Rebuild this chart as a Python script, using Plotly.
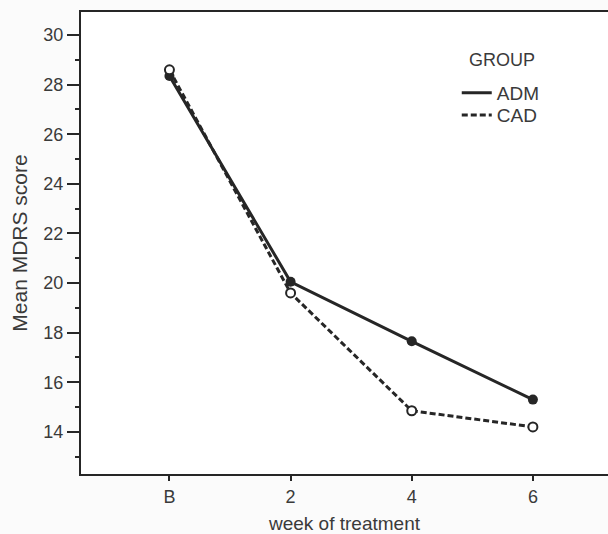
import plotly.graph_objects as go

weeks = ["B", "2", "4", "6"]
week_pos = [0, 1, 2, 3]
adm = [28.35, 20.05, 17.65, 15.3]
cad = [28.6, 19.6, 14.85, 14.2]

ink = "#262626"
txt = "#3a3a3a"
dash = "6px,3px"
fig = go.Figure()
fig.add_trace(go.Scatter(x=week_pos, y=adm, mode="lines+markers", showlegend=False,
                         line=dict(color=ink, width=3),
                         marker=dict(size=10, color=ink, symbol="circle")))
fig.add_trace(go.Scatter(x=week_pos, y=cad, mode="lines+markers", showlegend=False,
                         line=dict(color=ink, width=3, dash=dash),
                         marker=dict(size=9, color="white", symbol="circle",
                                     line=dict(color=ink, width=2))))
fig.add_trace(go.Scatter(x=[None], y=[None], mode="lines", name="ADM", legend="legend",
                         line=dict(color=ink, width=3)))
fig.add_trace(go.Scatter(x=[None], y=[None], mode="lines", name="CAD", legend="legend2",
                         line=dict(color=ink, width=3, dash=dash)))

fam = "Liberation Sans, Arial, sans-serif"
tickfont = dict(family=fam, size=18, color=txt)
legfont = dict(family=fam, size=19, color=txt)
fig.update_layout(
    width=608, height=534,
    margin=dict(l=81, r=0, t=12, b=60),
    paper_bgcolor="#fbfbfb", plot_bgcolor="white",
    font=dict(family=fam, size=18, color=txt),
    legend=dict(x=0.713, y=0.866, xanchor="left", yanchor="top",
                bgcolor="rgba(0,0,0,0)", font=legfont, itemwidth=30),
    legend2=dict(x=0.713, y=0.818, xanchor="left", yanchor="top",
                 bgcolor="rgba(0,0,0,0)", font=legfont, itemwidth=30),
    annotations=[dict(text="GROUP", x=0.732, y=0.896, xref="paper", yref="paper",
                      xanchor="left", yanchor="middle", showarrow=False,
                      font=dict(family=fam, size=18, color=txt))],
)
fig.update_xaxes(range=[-0.73, 3.62], tickvals=week_pos, ticktext=weeks,
                 tickfont=tickfont, automargin=False,
                 showline=True, linecolor=ink, linewidth=2, mirror=True,
                 ticks="outside", ticklen=5, tickwidth=2, tickcolor=ink,
                 showgrid=False, zeroline=False,
                 title=dict(text="week of treatment", standoff=16,
                            font=dict(family=fam, size=19, color=txt)))
fig.update_yaxes(range=[12.3, 30.93], tickvals=[14, 16, 18, 20, 22, 24, 26, 28, 30],
                 tickfont=tickfont, automargin=False,
                 showline=True, linecolor=ink, linewidth=2,
                 ticks="outside", ticklen=12, tickwidth=2, tickcolor=ink,
                 minor=dict(tickvals=[13, 15, 17, 19, 21, 23, 25, 27, 29],
                            ticks="outside", ticklen=4, tickwidth=2, tickcolor=ink),
                 showgrid=False, zeroline=False,
                 title=dict(text="Mean MDRS score", standoff=10,
                            font=dict(family=fam, size=21, color=txt)))

fig.write_html("out.html")
